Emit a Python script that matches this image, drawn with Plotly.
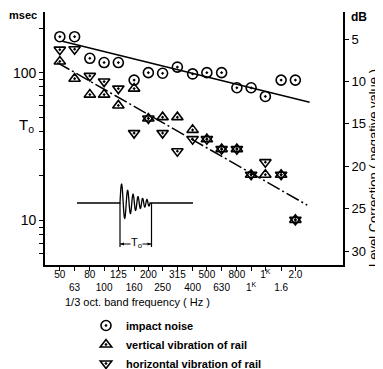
import numpy as np
import plotly.graph_objects as go

# 1/3 octave band centre frequencies (Hz) and their tick labels
freqs = [50, 63, 80, 100, 125, 160, 200, 250, 315, 400, 500, 630, 800, 1000, 1250, 1600, 2000]
freq_labels = ["50", "63", "80", "100", "125", "160", "200", "250", "315", "400",
               "500", "630", "800", "1<sup>K</sup>", "1<sup>K</sup>", "1.6", "2.0"]

# T0 (msec) per band
impact_noise = [175, 175, 125, 117, 117, 89, 100, 99, 109, 98, 100, 100, 79, 79, 69, 89, 89]
vertical_rail = [119, 91, 71, 71, 60, 78, 49, 50, 50, 41, 35.5, 30.4, 30.4, 20.4, 20.4, 20.4, 10.1]
horizontal_rail = [143, 144, 95, 87, 78, 39, 49, 39, 29.4, 35.5, 35.5, 30.4, 30.4, 20.4, 24.8, 20.4, 10.1]

# fitted lines (end points)
impact_fit_f = [52, 2500]
impact_fit_t = [163, 63]
rail_fit_f = [48, 2410]
rail_fit_t = [117, 12.7]

# right axis ticks (dB)
db_ticks = [5, 10, 15, 20, 25, 30]

FONT = "Liberation Sans Narrow, Liberation Sans, Arial, sans-serif"

fig = go.Figure()
mk = dict(color="black", size=10, line=dict(color="black", width=1.6))
fig.add_trace(go.Scatter(x=freqs, y=impact_noise, mode="markers", name="impact noise",
                         marker=dict(symbol="circle-open-dot", **mk)))
fig.add_trace(go.Scatter(x=freqs, y=vertical_rail, mode="markers", name="vertical vibration of rail",
                         marker=dict(symbol="triangle-up-open-dot", **mk)))
fig.add_trace(go.Scatter(x=freqs, y=horizontal_rail, mode="markers", name="horizontal vibration of rail",
                         marker=dict(symbol="triangle-down-open-dot", **mk)))
fig.add_trace(go.Scatter(x=impact_fit_f, y=impact_fit_t, mode="lines", showlegend=False,
                         line=dict(color="black", width=1.5)))
fig.add_trace(go.Scatter(x=rail_fit_f, y=rail_fit_t, mode="lines", showlegend=False,
                         line=dict(color="black", width=1.5, dash="14px,3px,2px,3px")))
# dummy trace for right axis
fig.add_trace(go.Scatter(x=[None], y=[None], yaxis="y2", showlegend=False, hoverinfo="skip"))

# page body adds an 8px margin; layout in window pixels below
OFF = 8
W, H = 383 - OFF, 369 - OFF
X0, X1, Y0, Y1 = 45, 343, 12, 265   # plot area in window pixels
L, T = X0 - OFF, Y0 - OFF
R, B = W - (X1 - OFF), H - (Y1 - OFF)
pw, ph = X1 - X0, Y1 - Y0


def px(x):
    return (x - X0) / pw


def py(y):
    return (Y1 - y) / ph


# inset illustration: decaying oscillation and T0 bracket
t = np.linspace(0, 1, 240)
xs = 120 + 30 * t
amp = 21 * np.exp(-2.0 * t)
phase = 4.5 * t + 1.5 * t ** 2
ys = 203 - amp * np.sin(2 * np.pi * phase)
path = f"M {px(77):.4f} {py(203):.4f} L {px(120):.4f} {py(203):.4f} "
path += " ".join(f"L {px(a):.4f} {py(b):.4f}" for a, b in zip(xs, ys))
path += f" L {px(151.5):.4f} {py(203):.4f} L {px(193):.4f} {py(203):.4f}"
shapes = [
    dict(type="path", xref="paper", yref="paper", path=path, line=dict(color="black", width=1.3)),
    dict(type="line", xref="paper", yref="paper", x0=px(120), x1=px(120), y0=py(203), y1=py(247),
         line=dict(color="black", width=1.2)),
    dict(type="line", xref="paper", yref="paper", x0=px(151.5), x1=px(151.5), y0=py(203), y1=py(247),
         line=dict(color="black", width=1.2)),
    dict(type="line", xref="paper", yref="paper", x0=px(120), x1=px(151.5), y0=py(244), y1=py(244),
         line=dict(color="black", width=1.0)),
    dict(type="path", xref="paper", yref="paper", fillcolor="black", line=dict(width=0),
         path=f"M {px(120):.4f} {py(244):.4f} L {px(124):.4f} {py(242.5):.4f} L {px(124):.4f} {py(245.5):.4f} Z"),
    dict(type="path", xref="paper", yref="paper", fillcolor="black", line=dict(width=0),
         path=f"M {px(151.5):.4f} {py(244):.4f} L {px(147.5):.4f} {py(242.5):.4f} L {px(147.5):.4f} {py(245.5):.4f} Z"),
]


def ann(text, x, y, size, xanchor="center", bold=False, **kw):
    f = dict(size=size, family=FONT, color="black")
    if bold:
        f["weight"] = "bold"
    return dict(text=text, x=px(x), y=py(y), xref="paper", yref="paper", showarrow=False,
                xanchor=xanchor, yanchor="middle", font=f, **kw)


annotations = [
    ann("T<sub>o</sub>", 136, 243, 11, bgcolor="white", borderpad=0),
    ann("msec", 23, 15, 11, bold=True),
    ann("T<sub>o</sub>", 26, 125, 15),
    ann("dB", 359, 17, 12, bold=True),
    ann("1/3 oct. band frequency ( Hz )", 63, 302, 11, xanchor="left"),
    ann("Level Correction ( negative value )", 373, 168, 13, textangle=-90),
]

ticktext = [lab if i % 2 == 0 else "<br>" + lab for i, lab in enumerate(freq_labels)]
ytv = [6, 7, 8, 9, 10, 20, 30, 40, 50, 60, 70, 80, 90, 100, 200]
ytt = ["10" if v == 10 else "100" if v == 100 else "" for v in ytv]

fig.update_layout(
    width=W, height=H,
    margin=dict(l=L, r=R, t=T, b=B, pad=0, autoexpand=False),
    paper_bgcolor="white", plot_bgcolor="white",
    font=dict(family=FONT, color="black", size=11),
    xaxis=dict(type="log", range=[1.598, 3.625], tickvals=freqs, ticktext=ticktext,
               showgrid=False, zeroline=False, showline=True, linecolor="black", linewidth=1.8,
               ticks="outside", ticklen=4, tickwidth=1.3, tickcolor="black",
               tickfont=dict(size=10, family=FONT), tickangle=0, automargin=False,
               ticklabelstandoff=-5),
    yaxis=dict(type="log", range=[0.699, 2.41], tickvals=ytv, ticktext=ytt,
               showgrid=False, zeroline=False, showline=True, linecolor="black", linewidth=1.8,
               ticks="outside", ticklen=4, tickwidth=1.3, tickcolor="black",
               tickfont=dict(size=14, family=FONT), automargin=False),
    yaxis2=dict(overlaying="y", side="right", range=[31.65, 1.8], tickvals=db_ticks,
                showgrid=False, zeroline=False, showline=True, linecolor="black", linewidth=1.8,
                ticks="outside", ticklen=4, tickwidth=1.3, tickcolor="black",
                tickfont=dict(size=13, family=FONT), automargin=False),
    showlegend=True,
    legend=dict(x=px(86), y=py(311), xanchor="left", yanchor="top",
                font=dict(size=11, family=FONT, color="black", weight="bold"),
                bgcolor="rgba(0,0,0,0)", itemwidth=30, tracegroupgap=0),
    shapes=shapes,
    annotations=annotations,
)

fig.write_html("out.html")
